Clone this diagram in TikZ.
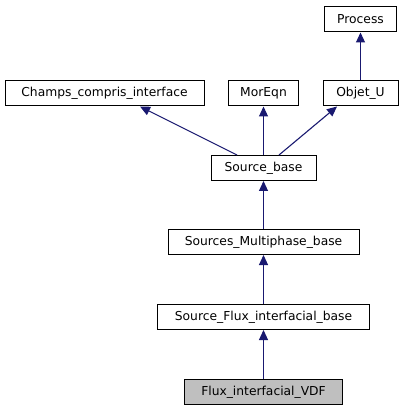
\documentclass[tikz,border=0pt]{standalone}
\usepackage{fontspec}
\setmainfont{DejaVu Sans}
\usepackage{xcolor}
\usetikzlibrary{arrows.meta}
\definecolor{edgeblue}{HTML}{191970}
\definecolor{boxgray}{HTML}{BFBFBF}

\begin{document}
\begin{tikzpicture}[x=1pt,y=-1pt,
    cls/.style={draw,line width=1pt,rectangle,minimum height=25pt,inner sep=0pt,font=\fontsize{12.3}{14}\selectfont},
    inh/.style={draw=edgeblue,line width=1.1pt,{Triangle[length=10pt,width=9pt]}-}]
       	\useasboundingbox (0,0) rectangle (403,411);

       	\node[cls,minimum width=72pt] (process) at (360.5,19.5) {Process};
       	\node[cls,minimum width=199pt] (champs) at (104.5,93.5) {Champs\_compris\_interface};
       	\node[cls,minimum width=70pt] (moreqn) at (263.5,93.5) {MorEqn};
       	\node[cls,minimum width=75pt] (objetu) at (360.5,93.5) {Objet\_U};
       	\node[cls,minimum width=105pt] (srcbase) at (263.5,168) {Source\_base};
       	\node[cls,minimum width=191pt] (multi) at (263.5,242) {Sources\_Multiphase\_base};
       	\node[cls,minimum width=212pt] (fluxbase) at (263.5,317) {Source\_Flux\_interfacial\_base};
       	\node[cls,minimum width=158pt,fill=boxgray] (vdf) at (263.5,392) {Flux\_interfacial\_VDF};

       	\draw[inh] (process) -- (objetu);
       	\draw[inh] ([xshift=35.5pt]champs.south) -- ([xshift=-26.5pt]srcbase.north);
       	\draw[inh] (moreqn.south) -- (moreqn.south |- srcbase.north);
       	\draw[inh] ([xshift=-23.5pt]objetu.south) -- ([xshift=15.5pt]srcbase.north);
       	\draw[inh] (srcbase) -- (multi);
       	\draw[inh] (multi) -- (fluxbase);
       	\draw[inh] (fluxbase) -- (vdf);
       	\end{tikzpicture}
\end{document}
